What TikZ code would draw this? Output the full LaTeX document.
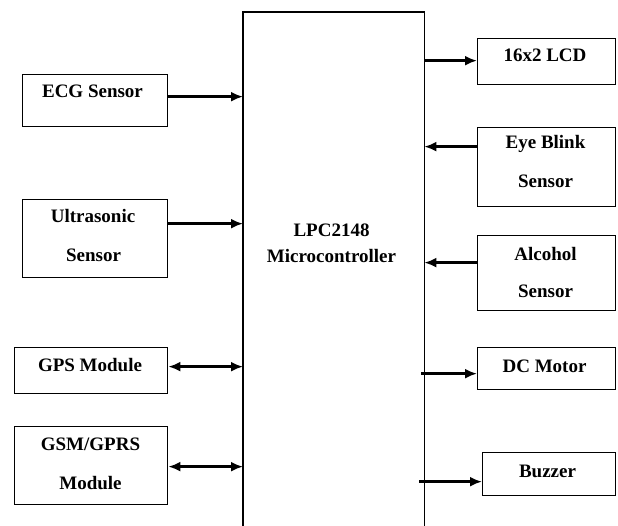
\documentclass[tikz,border=0pt]{standalone}
\usepackage{fontspec}
\setmainfont{Liberation Serif}
\usetikzlibrary{arrows.meta}
\begin{document}
\begin{tikzpicture}[x=1pt,y=-1pt,
 blk/.style={draw,line width=1.3pt,anchor=north west,inner sep=0pt},
 lbl/.style={anchor=base,inner sep=0pt,font=\fontsize{19}{23}\selectfont\bfseries},
 arr/.style={line width=2.8pt,-{Latex[length=12pt,width=10pt]}},
 barr/.style={line width=2.8pt,{Latex[length=12pt,width=10pt]}-{Latex[length=12pt,width=10pt]}}]
\useasboundingbox (0,0) rectangle (618,526);
% microcontroller
\node[blk,draw=none,minimum width=180pt,minimum height=530pt] (mcu) at (243,12) {};
\draw[line width=1.3pt] (mcu.south west) -- (mcu.north west) -- (mcu.north east) -- (mcu.south east);
\node[lbl] (mcu1) at (331.5,237) {LPC2148};
\node[lbl] (mcu2) at (331.5,263) {Microcontroller};
% left boxes
\node[blk,minimum width=145pt,minimum height=52pt] (ecg) at (22,74) {};
\node[lbl] (ecgt) at (92.5,98) {ECG Sensor};
\node[blk,minimum width=145pt,minimum height=78pt] (ult) at (22,199) {};
\node[lbl] (ultt1) at (93,223) {Ultrasonic};
\node[lbl] (ultt2) at (93.5,262) {Sensor};
\node[blk,minimum width=153pt,minimum height=46pt] (gps) at (14,347) {};
\node[lbl] (gpst) at (90,371) {GPS Module};
\node[blk,minimum width=153pt,minimum height=78pt] (gsm) at (14,426) {};
\node[lbl] (gsmt1) at (90.5,450) {GSM/GPRS};
\node[lbl] (gsmt2) at (90.5,489) {Module};
% right boxes
\node[blk,minimum width=138pt,minimum height=46pt] (lcd) at (477,38) {};
\node[lbl] (lcdt) at (545,62) {16x2 LCD};
\node[blk,minimum width=138pt,minimum height=79pt] (eye) at (477,127) {};
\node[lbl] (eyet1) at (545.5,149) {Eye Blink};
\node[lbl] (eyet2) at (545.5,188) {Sensor};
\node[blk,minimum width=138pt,minimum height=75pt] (alc) at (477,235) {};
\node[lbl] (alct1) at (545.5,261) {Alcohol};
\node[lbl] (alct2) at (545.5,298) {Sensor};
\node[blk,minimum width=138pt,minimum height=42pt] (dc) at (477,347) {};
\node[lbl] (dct) at (544.5,372) {DC Motor};
\node[blk,minimum width=133pt,minimum height=43pt] (buz) at (482,452) {};
\node[lbl] (buzt) at (547.5,477) {Buzzer};
% connectors
\coordinate (p1) at ([yshift=4pt]ecg.east);
\coordinate (p2) at ([yshift=15pt]ult.east);
\coordinate (p3) at ([yshift=4pt]gps.east);
\coordinate (p4) at ([yshift=-1pt]gsm.east);
\coordinate (p5) at ([yshift=1pt]lcd.west);
\coordinate (p6) at ([yshift=20.5pt]eye.west);
\coordinate (p7) at ([yshift=10.5pt]alc.west);
\coordinate (p8) at ([yshift=-5pt]dc.west);
\coordinate (p9) at ([yshift=-7.5pt]buz.west);
\draw[arr] (p1) -- (p1 -| mcu.west);
\draw[arr] (p2) -- (p2 -| mcu.west);
\draw[barr] (p3) -- (p3 -| mcu.west);
\draw[barr] (p4) -- (p4 -| mcu.west);
\draw[arr] (p5 -| mcu.east) -- (p5);
\draw[arr] (p6) -- (p6 -| mcu.east);
\draw[arr] (p7) -- (p7 -| mcu.east);
\draw[arr] ([xshift=-3pt]p8 -| mcu.east) -- (p8);
\draw[arr] ([xshift=-5pt]p9 -| mcu.east) -- (p9);
\end{tikzpicture}
\end{document}
